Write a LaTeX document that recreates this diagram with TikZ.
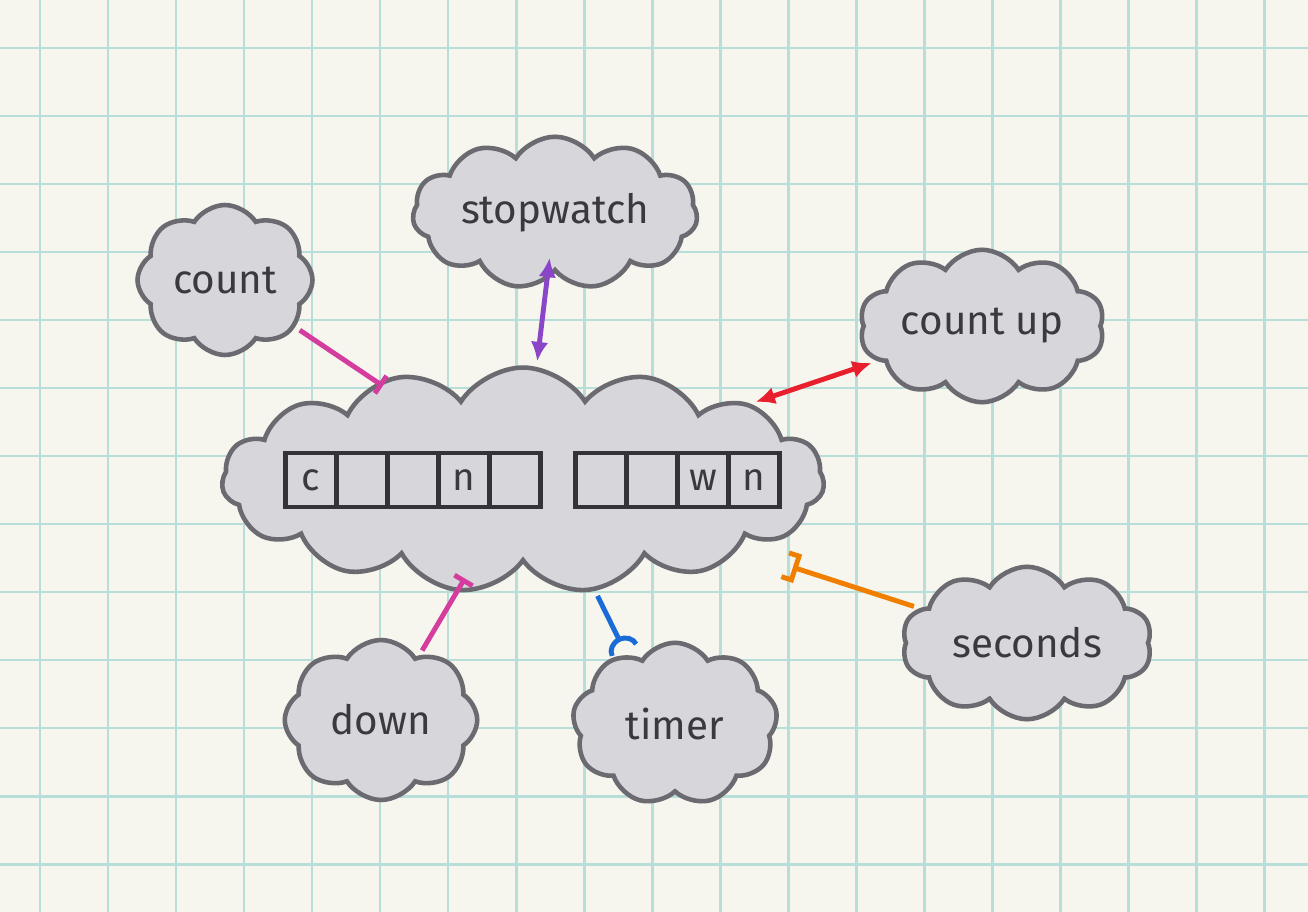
\documentclass[tikz,border=0pt]{standalone}
\usepackage{fontspec}
\setmainfont{Fira Sans}
\usepackage{xcolor}
\usepackage{tikz}
\usetikzlibrary{positioning,arrows.meta,shapes.symbols}

\definecolor{paper}{HTML}{F6F5EE}
\definecolor{gridline}{HTML}{B8DED9}
\definecolor{cloudfill}{HTML}{D7D6DB}
\definecolor{cloudline}{HTML}{6A6A70}
\definecolor{ink}{HTML}{3A3A3E}
\definecolor{boxline}{HTML}{333338}
\definecolor{linkpink}{HTML}{D43C9E}
\definecolor{linkpurple}{HTML}{8A45C8}
\definecolor{linkred}{HTML}{E8202E}
\definecolor{linkblue}{HTML}{1A6AD8}
\definecolor{linkorange}{HTML}{F07F00}

\begin{document}
\begin{tikzpicture}[
    >={Latex[length=11pt,width=10pt]},
    x=0.02cm, y=-0.02cm,
    blob/.style={cloud, cloud puffs=#1, cloud puff arc=115, cloud ignores aspect, draw=cloudline, fill=cloudfill, line width=2.6pt, text=ink, font=\fontsize{23}{27}\selectfont},
    blob/.default=9,
    letter/.style={rectangle, draw=boxline, line width=2.6pt, minimum width=1.02cm, minimum height=1.08cm, inner sep=0pt, text=ink, font=\fontsize{22}{26}\selectfont},
    link/.style={line width=2.8pt, shorten >=3pt, shorten <=3pt}
]
% === Paper ===
\fill[paper] (0,0) rectangle (1308,912);
\useasboundingbox (0,0) rectangle (1308,912);
\foreach \gx in {40,108,...,1264} {
    \draw[gridline, line width=1.7pt] (\gx,0) -- (\gx,912);
}
\foreach \gy in {48,116,...,864} {
    \draw[gridline, line width=1.7pt] (0,\gy) -- (1308,\gy);
}

% === Clouds ===
\node[blob=15, minimum width=12.05cm, minimum height=4.5cm] (hub) at (523,480) {};
\node[blob=8, minimum width=3.5cm, minimum height=3.0cm] (count) at (225,280) {count};
\node[blob=11, minimum width=5.7cm, minimum height=3.05cm] (stopwatch) at (555,213) {stopwatch};
\node[blob=10, minimum width=4.65cm, minimum height=3.05cm] (countup) at (982,326) {count up};
\node[blob=10, minimum width=5.0cm, minimum height=3.05cm] (seconds) at (1027,643) {seconds};
\node[blob=8, minimum width=3.85cm, minimum height=3.2cm] (down) at (381,720) {down};
\node[blob=9, minimum width=4.1cm, minimum height=3.25cm] (timer) at (675,724) {timer};

% Letter boxes
\foreach \ch [count=\i from 0] in {c,{},{},n,{}} {
    \node[letter] (left\i) at (311+\i*51, 480) {\ch};
}
\foreach \ch [count=\i from 0] in {{},{},w,n} {
    \node[letter] (right\i) at (601+\i*51, 480) {\ch};
}

% === Links ===
\draw[link, linkpink, -{Bar[width=12pt]}, shorten >=-4pt] (count) -- (hub);
\draw[link, linkpurple, <->, shorten <=-13pt] (stopwatch) -- (hub);
\draw[link, linkred, <->] (hub) -- (countup);
\draw[link, linkpink, -{Bar[width=12pt]}, shorten >=-9pt] (down) -- (hub);
\draw[link, linkblue, -{Arc Barb[reversed, length=8pt, width=18pt]}] (hub.303) -- (timer.125);
\draw[link, linkorange, -{Bracket[reversed, width=17pt, length=6pt]}, shorten >=28pt] (seconds) -- (hub);
\end{tikzpicture}
\end{document}
